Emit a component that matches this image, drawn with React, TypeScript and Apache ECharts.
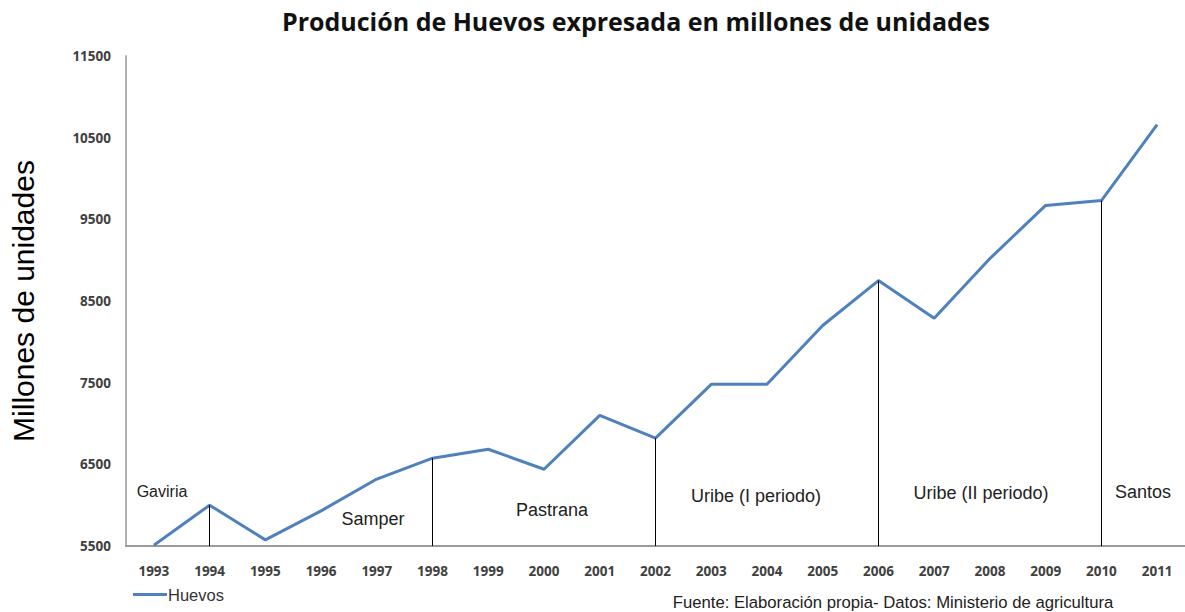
import React, { useEffect, useRef } from "react";
import * as echarts from "echarts";

const years = ["1993","1994","1995","1996","1997","1998","1999","2000","2001","2002","2003","2004","2005","2006","2007","2008","2009","2010","2011"];
const huevos = [5510,6000,5575,5930,6320,6575,6685,6440,7100,6820,7480,7480,8200,8750,8290,9020,9670,9730,10660];
const periodBreaks = ["1994","1998","2002","2006","2010"];
const periodNames = ["Gaviria","Samper","Pastrana","Uribe (I periodo)","Uribe (II periodo)","Santos"];
const yMin = 5500;
const yMax = 11500;

export default function App() {
  const ref = useRef<HTMLDivElement>(null);
  useEffect(() => {
    document.body.style.margin = "0";
    const chart = echarts.init(ref.current!, null, { renderer: "svg" });
    const valueOf = (y: string) => huevos[years.indexOf(y)];
    const annotationPos = [
      [162, 491], [373, 519], [552, 510], [756, 496], [981, 493], [1143, 492],
    ];
    chart.setOption({
      animation: false,
      backgroundColor: "#ffffff",
      title: {
        text: "Produción de Huevos expresada en millones de unidades",
        left: 631,
        textAlign: "center",
        top: 3,
        textStyle: { fontFamily: "Open Sans", fontWeight: "bold", fontSize: 25, color: "#111" },
      },
      grid: { left: 125, right: 0, top: 56, bottom: 66, containLabel: false },
      legend: {
        left: 128,
        top: 581,
        data: [{ name: "Huevos", icon: "rect" }],
        itemWidth: 34,
        itemHeight: 3,
        itemGap: 4,
        textStyle: { fontFamily: "Liberation Sans", fontSize: 16.5, color: "#333", padding: [0, 0, 0, -4] },
      },
      xAxis: {
        type: "category",
        data: years,
        boundaryGap: true,
        axisLine: { lineStyle: { color: "#9a9a9a", width: 2 } },
        axisTick: { show: false },
        axisLabel: { margin: 18, fontFamily: "Open Sans", fontWeight: "bold", fontSize: 13.5, color: "#404040" },
      },
      yAxis: {
        type: "value",
        min: yMin,
        max: yMax,
        interval: 500,
        name: "Millones de unidades",
        nameLocation: "middle",
        nameRotate: 90,
        nameGap: 88,
        nameTextStyle: { fontFamily: "Liberation Sans", fontSize: 30, color: "#000" },
        axisLine: { show: true, lineStyle: { color: "#b0b0b0", width: 2 } },
        axisTick: { show: false },
        splitLine: { show: false },
        axisLabel: {
          margin: 15,
          fontFamily: "Open Sans",
          fontWeight: "bold",
          fontSize: 13.5,
          color: "#404040",
          formatter: (v: number) => ((v - yMin) % 1000 === 0 ? String(v) : ""),
        },
      },
      series: [
        {
          name: "Huevos",
          type: "line",
          data: huevos,
          symbol: "none",
          lineStyle: { color: "#4F81BD", width: 3 },
          itemStyle: { color: "#4F81BD" },
          markLine: {
            silent: true,
            symbol: "none",
            label: { show: false },
            lineStyle: { color: "#000", width: 1, type: "solid" },
            data: periodBreaks.map((y) => [
              { coord: [y, yMin] },
              { coord: [y, valueOf(y)] },
            ]),
          },
        },
      ],
      graphic: [
        ...periodNames.map((n, i) => ({
          type: "text",
          x: annotationPos[i][0],
          y: annotationPos[i][1],
          style: {
            text: n,
            align: "center",
            verticalAlign: "middle",
            fontFamily: "Liberation Sans",
            fontSize: i === 0 ? 16 : 18,
            fill: "#222",
          },
        })),
        {
          type: "text",
          x: 893,
          y: 602,
          style: {
            text: "Fuente: Elaboración propia- Datos: Ministerio de agricultura",
            align: "center",
            verticalAlign: "middle",
            fontFamily: "Liberation Sans",
            fontSize: 16.7,
            fill: "#222",
          },
        },
      ],
    });
    return () => chart.dispose();
  }, []);
  return <div ref={ref} style={{ width: 1185, height: 612 }} />;
}
